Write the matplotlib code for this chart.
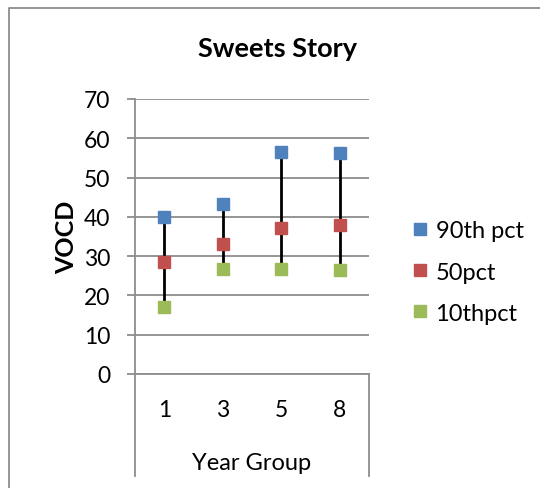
import numpy as np
import matplotlib
matplotlib.use("Agg")
import matplotlib.pyplot as plt
from matplotlib.lines import Line2D

plt.rcParams['font.family'] = ['Lato', 'DejaVu Sans']

groups = ['1', '3', '5', '8']
p90 = [40.0, 43.2, 56.5, 56.3]
p50 = [28.6, 33.2, 37.1, 37.9]
p10 = [17.0, 26.8, 26.7, 26.6]

W, H = 540, 489
fig = plt.figure(figsize=(W / 100, H / 100), dpi=100)

# plot area in pixels
left, right, top, bottom = 135, 369, 100, 375
ax = fig.add_axes([left / W, 1 - bottom / H, (right - left) / W, (bottom - top) / H])

x = np.arange(len(groups))
ax.vlines(x, p10, p90, color='black', lw=2, zorder=2)
ax.plot(x, p90, 's', color='#4F81BD', ms=9, label='90th pct', zorder=3)
ax.plot(x, p50, 's', color='#C0504D', ms=9, label='50pct', zorder=3)
ax.plot(x, p10, 's', color='#9BBB59', ms=9, label='10thpct', zorder=3)

ax.set_xlim(-0.5, len(groups) - 0.5)
ax.set_ylim(0, 70)
ax.set_yticks(range(0, 71, 10))
ax.set_xticks(x)
ax.set_xticklabels(groups)
ax.yaxis.grid(True, color='#8c8c8c', lw=1.3)
ax.set_axisbelow(True)
for s in ['top', 'right']:
    ax.spines[s].set_visible(False)
for s in ['left', 'bottom']:
    ax.spines[s].set_color('#8c8c8c')
    ax.spines[s].set_linewidth(1.3)
ax.tick_params(axis='y', length=6, width=1.3, color='#8c8c8c', labelsize=16.5, pad=12)
ax.tick_params(axis='x', length=0, labelsize=16.5, pad=18)

# category box lines below the axis
ax.plot([0, 0], [0, -(477 - bottom) / (bottom - top)], transform=ax.transAxes,
        color='#8c8c8c', lw=1.3, clip_on=False)
ax.plot([1, 1], [0, -(477 - bottom) / (bottom - top)], transform=ax.transAxes,
        color='#8c8c8c', lw=1.3, clip_on=False)

ax.set_xlabel('Year Group', fontsize=17, labelpad=23)
ax.set_ylabel('VOCD', fontsize=18, fontweight='bold', labelpad=4)

fig.text(277 / W, 1 - 49 / H, 'Sweets Story', ha='center', va='center',
         fontsize=19.5, fontweight='bold')

fig.legend(loc='center left', bbox_to_anchor=(393 / W, 1 - 273 / H), frameon=False,
           fontsize=17, handlelength=0.5, handletextpad=0.4, labelspacing=0.85,
           markerscale=1.0)

# chart border
fig.add_artist(Line2D([9 / W, 9 / W, 1], [0, 1 - 9 / H, 1 - 9 / H],
                      transform=fig.transFigure, color='#8c8c8c', lw=1.3))

fig.savefig('out.png', dpi=100)
